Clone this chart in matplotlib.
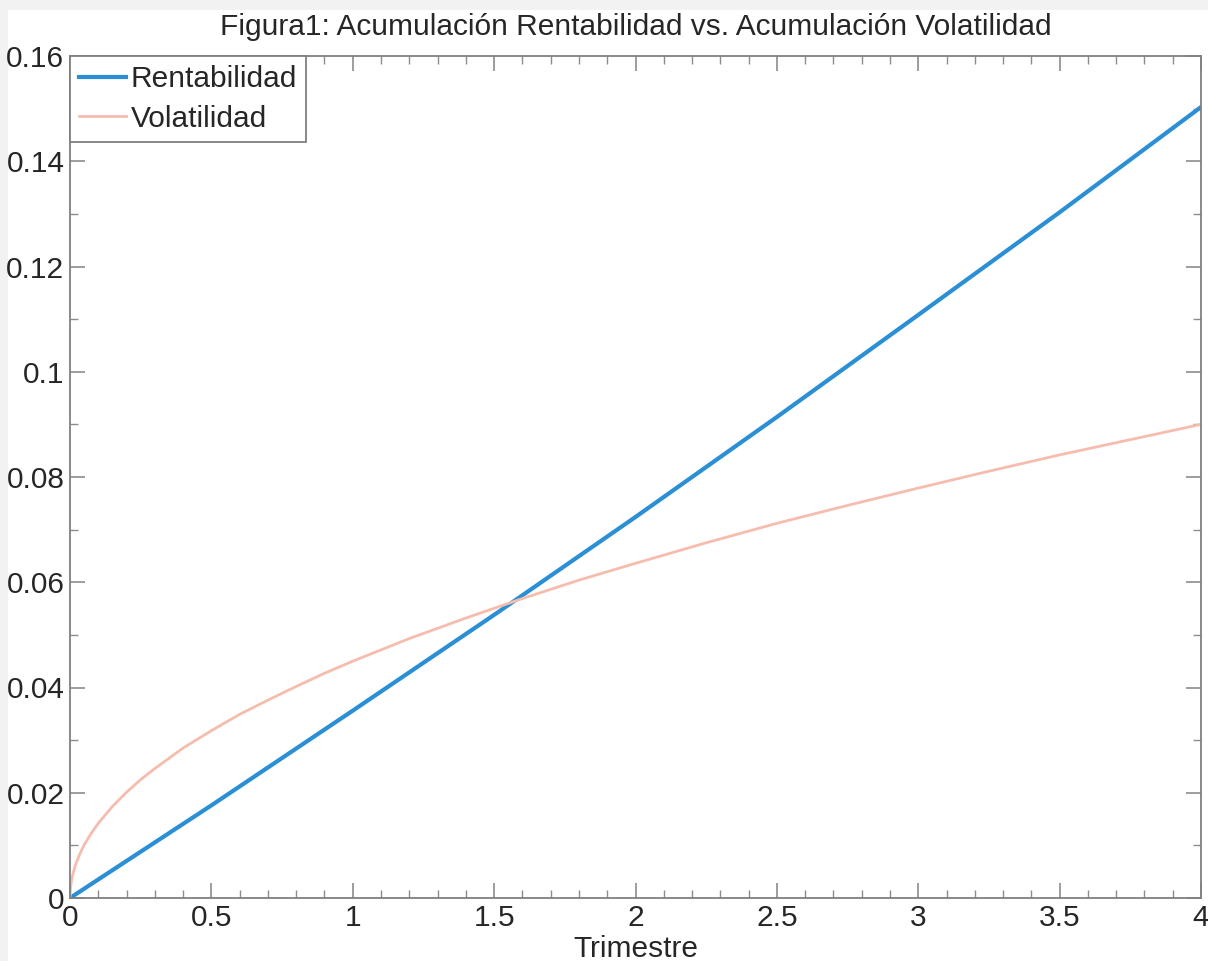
import matplotlib
matplotlib.use("Agg")
import matplotlib.pyplot as plt
from matplotlib.patches import Rectangle
from matplotlib.ticker import MultipleLocator

# values
trimestre_rent = [0, 0.5, 1, 1.5, 2, 2.5, 3, 3.5, 4]
rentabilidad = [0, 0.0176, 0.0356, 0.0538, 0.0724, 0.0914, 0.1108, 0.1303, 0.1503]

trimestre_vol = [0, 0.002, 0.005, 0.01, 0.02, 0.035, 0.05, 0.075, 0.1, 0.15, 0.2,
                 0.25, 0.3, 0.4, 0.5, 0.6, 0.7, 0.8, 0.9, 1, 1.2, 1.4, 1.6, 1.8,
                 2, 2.25, 2.5, 2.75, 3, 3.25, 3.5, 3.75, 4]
volatilidad = [0, 0.0020, 0.0032, 0.0045, 0.0064, 0.0084, 0.0101, 0.0123, 0.0142,
               0.0174, 0.0201, 0.0225, 0.0246, 0.0285, 0.0318, 0.0349, 0.0376,
               0.0402, 0.0427, 0.0450, 0.0493, 0.0532, 0.0569, 0.0604, 0.0636,
               0.0675, 0.0712, 0.0746, 0.0779, 0.0811, 0.0842, 0.0871, 0.0900]

x_ticks = [0, 0.5, 1, 1.5, 2, 2.5, 3, 3.5, 4]
x_labels = ["0", "0.5", "1", "1.5", "2", "2.5", "3", "3.5", "4"]
y_ticks = [0, 0.02, 0.04, 0.06, 0.08, 0.1, 0.12, 0.14, 0.16]
y_labels = ["0", "0.02", "0.04", "0.06", "0.08", "0.1", "0.12", "0.14", "0.16"]

plt.rcParams["font.family"] = ["Liberation Sans", "DejaVu Sans"]
fs = 21.5

fig = plt.figure(figsize=(12.08, 9.61), dpi=100)
fig.patch.set_facecolor("#f2f2f2")
# white paper area (gray strip on top and left like the screenshot)
fig.patches.append(Rectangle((8 / 1208, 0), 1, 1 - 10 / 961, transform=fig.transFigure,
                             facecolor="white", edgecolor="none", zorder=-10))

ax = fig.add_axes([70 / 1208, 63 / 961, 1131 / 1208, 842 / 961])
ax.plot(trimestre_rent, rentabilidad, color="#2a8fd4", lw=3, label="Rentabilidad")
ax.plot(trimestre_vol, volatilidad, color="#f6bdae", lw=2, label="Volatilidad")

ax.set_xlim(0, 4)
ax.set_ylim(0, 0.16)
ax.xaxis.set_minor_locator(MultipleLocator(0.1))
ax.yaxis.set_minor_locator(MultipleLocator(0.01))
ax.set_xticks(x_ticks)
ax.set_xticklabels(x_labels)
ax.set_yticks(y_ticks)
ax.set_yticklabels(y_labels)

ax.tick_params(which="both", direction="in", top=True, right=True, color="#8c8c8c",
               labelcolor="#262626", labelsize=fs, pad=4)
ax.tick_params(which="major", length=11, width=1.2)
ax.tick_params(which="minor", length=6, width=1.0)
for s in ax.spines.values():
    s.set_color("#808080")
    s.set_linewidth(1.3)

ax.set_xlabel("Trimestre", fontsize=fs, color="#262626")
ax.xaxis.set_label_coords(0.5, -0.044)
ax.set_title("Figura1: Acumulación Rentabilidad vs. Acumulación Volatilidad",
             fontsize=fs, color="#262626", pad=15)

leg = ax.legend(loc="upper left", fontsize=fs, fancybox=False, framealpha=1,
                borderaxespad=0, handlelength=1.57, handletextpad=0.17,
                borderpad=0.3, labelspacing=0.4)
leg.get_frame().set_edgecolor("#808080")
leg.get_frame().set_linewidth(1.3)
for t in leg.get_texts():
    t.set_color("#262626")

fig.savefig("out.png", dpi=100, facecolor=fig.get_facecolor())
